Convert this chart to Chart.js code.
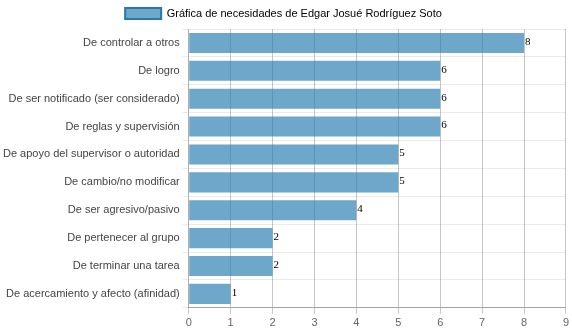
<!DOCTYPE html>
<html>
<head>
<meta charset="utf-8">
<script src="https://cdn.jsdelivr.net/npm/chart.js@4/dist/chart.umd.min.js"></script>
<style>
  html, body { margin: 0; padding: 0; background: #fff; }
  #wrap { width: 572px; height: 333px; }
</style>
</head>
<body>
<div id="wrap"><canvas id="c" width="572" height="333"></canvas></div>
<script>
const categories = [
  "De controlar a otros",
  "De logro",
  "De ser notificado (ser considerado)",
  "De reglas y supervisión",
  "De apoyo del supervisor o autoridad",
  "De cambio/no modificar",
  "De ser agresivo/pasivo",
  "De pertenecer al grupo",
  "De terminar una tarea",
  "De acercamiento y afecto (afinidad)"
];
const values = [8, 6, 6, 6, 5, 5, 4, 2, 2, 1];
const seriesName = "Gráfica de necesidades de Edgar Josué Rodríguez Soto";

// Writes each bar's value just past its end
const valueLabels = {
  id: "valueLabels",
  afterDatasetsDraw(chart) {
    const ctx = chart.ctx;
    const meta = chart.getDatasetMeta(0);
    ctx.save();
    ctx.font = "11px 'Liberation Serif', 'DejaVu Serif', serif";
    ctx.fillStyle = "#000";
    ctx.textAlign = "left";
    ctx.textBaseline = "middle";
    meta.data.forEach((bar, i) => {
      ctx.fillText(String(chart.data.datasets[0].data[i]), bar.x + 1, bar.y - 1);
    });
    ctx.restore();
  }
};

new Chart(document.getElementById("c"), {
  type: "bar",
  data: {
    labels: categories,
    datasets: [{
      label: seriesName,
      data: values,
      backgroundColor: "rgba(40,125,175,0.68)",
      borderColor: "rgba(40,120,170,0.9)",
      borderWidth: 0
    }]
  },
  options: {
    indexAxis: "y",
    responsive: false,
    animation: false,
    devicePixelRatio: 1,
    layout: { padding: { left: 0, right: 5, top: 0, bottom: 0 } },
    plugins: {
      legend: {
        display: true,
        labels: {
          color: "#555",
          padding: 8,
          font: { family: "'Liberation Sans', Arial, sans-serif", size: 11 },
          boxWidth: 36,
          boxHeight: 11,
          generateLabels(chart) {
            return [{
              text: seriesName,
              fillStyle: "rgba(40,125,175,0.68)",
              strokeStyle: "rgb(40,120,170)",
              lineWidth: 2,
              datasetIndex: 0
            }];
          }
        }
      },
      tooltip: { enabled: false }
    },
    scales: {
      x: {
        min: 0,
        max: 9,
        ticks: {
          stepSize: 1,
          color: "#666",
          font: { family: "'Liberation Sans', Arial, sans-serif", size: 11 }
        },
        grid: { color: "rgba(0,0,0,0.22)", drawTicks: true, tickLength: 6 },
        border: { color: "rgba(0,0,0,0.3)" }
      },
      y: {
        ticks: {
          color: "#444",
          font: { family: "'Liberation Sans', Arial, sans-serif", size: 11 }
        },
        grid: { color: "rgba(0,0,0,0.08)", offset: true, drawTicks: true, tickLength: 6 },
        border: { color: "rgba(0,0,0,0.12)" }
      }
    }
  },
  plugins: [valueLabels]
});
</script>
</body>
</html>
